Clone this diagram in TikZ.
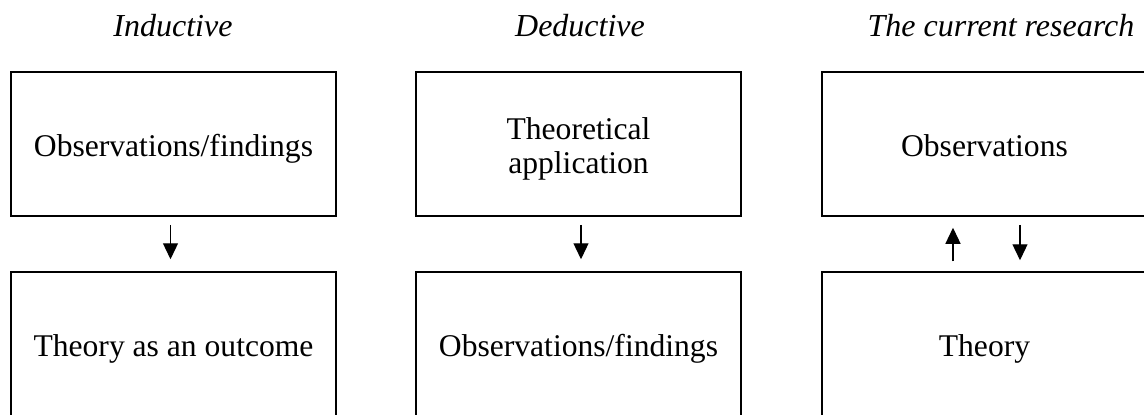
\documentclass[tikz,border=0pt]{standalone}
\usepackage{fontspec}
\setmainfont{Liberation Serif}
\usetikzlibrary{arrows.meta}
\begin{document}
\begin{tikzpicture}[x=1pt,y=-1pt,
  box/.style={draw,line width=1.5pt,minimum width=325pt,minimum height=144pt,inner sep=0pt,align=center,
    text height=24pt,text depth=0pt,font=\fontsize{31.6}{34.5}\selectfont},
  twoline/.style={text height=,text depth=},
  heading/.style={anchor=base,font=\fontsize{32}{36}\selectfont\itshape},
  link/.style={line width=1.3pt,-{Triangle[width=15pt,length=16pt]}}]
\useasboundingbox (0,0) rectangle (1144,415);
\clip (0,0) rectangle (1144,415);
\node[heading] (h1) at (173,36) {Inductive};
\node[heading] (h2) at (580,36) {Deductive};
\node[heading] (h3) at (1001,36) {The current research};
\node[box] (t1) at (173.5,144) {Observations/findings};
\node[box,twoline] (t2) at (578.5,144) {\rule{0pt}{32pt}Theoretical\\application};
\node[box] (t3) at (984.5,144) {Observations};
\node[box] (b1) at (173.5,344) {Theory as an outcome};
\node[box] (b2) at (578.5,344) {Observations/findings};
\node[box] (b3) at (984.5,344) {Theory};
\draw[link,shorten <=8pt,shorten >=12pt] ([xshift=-3pt]t1.south) -- ([xshift=-3pt]b1.north);
\draw[link,shorten <=8pt,shorten >=12pt] ([xshift=2.5pt]t2.south) -- ([xshift=2.5pt]b2.north);
\draw[link,shorten <=10pt,shorten >=11pt] ([xshift=-31.5pt]b3.north) -- ([xshift=-31.5pt]t3.south);
\draw[link,shorten <=8pt,shorten >=11pt] ([xshift=35.5pt]t3.south) -- ([xshift=35.5pt]b3.north);
\end{tikzpicture}
\end{document}
